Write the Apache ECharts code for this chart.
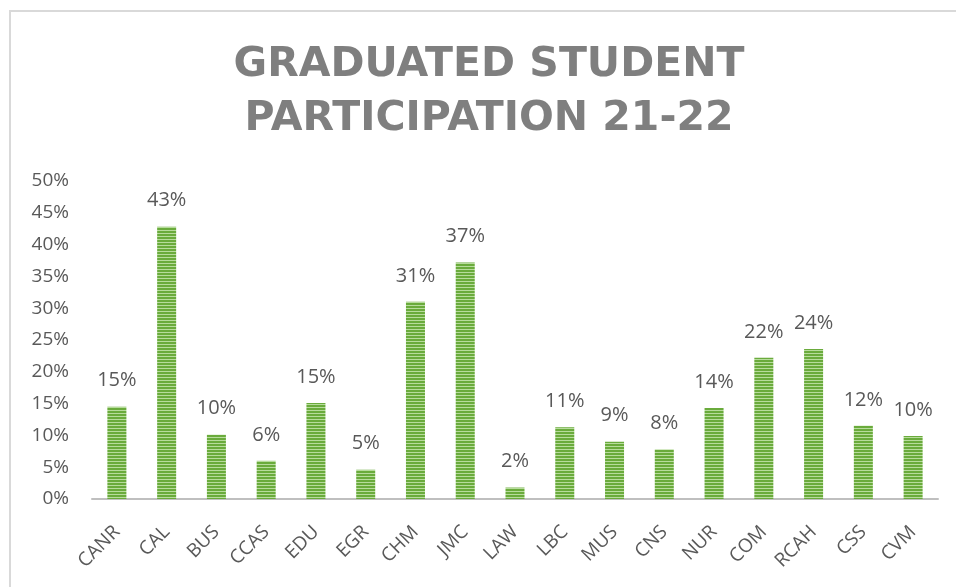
<!DOCTYPE html>
<html>
<head>
<meta charset="utf-8">
<script src="https://cdn.jsdelivr.net/npm/echarts@6/dist/echarts.min.js"></script>
<style>
  html, body { margin: 0; padding: 0; background: #ffffff; }
  #chart { width: 956px; height: 587px; }
</style>
</head>
<body>
<div id="chart"></div>
<script>
// ---- Data ----
var titleLines = ['GRADUATED STUDENT', 'PARTICIPATION 21-22'];
var categories = ['CANR', 'CAL', 'BUS', 'CCAS', 'EDU', 'EGR', 'CHM', 'JMC', 'LAW', 'LBC', 'MUS', 'CNS', 'NUR', 'COM', 'RCAH', 'CSS', 'CVM'];
var participation = [14.5, 42.8, 10.1, 6.0, 15.1, 4.6, 31.0, 37.2, 1.8, 11.3, 9.0, 7.8, 14.3, 22.2, 23.6, 11.5, 9.9];
var yMin = 0, yMax = 50, yStep = 5;

// ---- Striped fill pattern ----
var pat = document.createElement('canvas');
pat.width = 4; pat.height = 3;
var ctx = pat.getContext('2d');
ctx.fillStyle = '#6aab3c';
ctx.fillRect(0, 0, 4, 2);
ctx.fillStyle = '#b7dc9c';
ctx.fillRect(0, 2, 4, 1);

var chart = echarts.init(document.getElementById('chart'), null, { renderer: 'canvas' });

var option = {
  backgroundColor: '#ffffff',
  animation: false,
  graphic: [
    {
      type: 'rect',
      shape: { x: 10, y: 11, width: 1000, height: 1000 },
      style: { fill: 'none', stroke: '#d9d9d9', lineWidth: 2 },
      silent: true
    },
    {
      type: 'text',
      x: 489,
      y: 38,
      style: {
        text: titleLines.join('\n'),
        fontFamily: 'DejaVu Sans',
        fontWeight: 'bold',
        fontSize: 41,
        lineHeight: 54,
        fill: '#7f7f7f',
        textAlign: 'center',
        textVerticalAlign: 'top'
      }
    }
  ],
  grid: { left: 92, right: 18, top: 181, bottom: 88, containLabel: false },
  xAxis: {
    type: 'category',
    data: categories,
    axisLine: { show: true, lineStyle: { color: '#bfbfbf', width: 2 } },
    axisTick: { show: false },
    axisLabel: {
      rotate: 45,
      interval: 0,
      margin: 30,
      color: '#595959',
      fontFamily: 'Open Sans',
      fontSize: 19
    }
  },
  yAxis: {
    type: 'value',
    min: yMin,
    max: yMax,
    interval: yStep,
    axisLine: { show: false },
    axisTick: { show: false },
    splitLine: { show: false },
    axisLabel: {
      formatter: '{value}%',
      margin: 23,
      color: '#595959',
      fontFamily: 'Open Sans',
      fontSize: 19
    }
  },
  series: [{
    type: 'bar',
    data: participation,
    barWidth: 19,
    itemStyle: { color: { image: pat, repeat: 'repeat' } },
    label: {
      show: true,
      position: 'top',
      distance: 16,
      color: '#595959',
      fontFamily: 'Open Sans',
      fontSize: 20,
      formatter: function (p) { return Math.round(p.value) + '%'; }
    }
  }]
};

chart.setOption(option);
</script>
</body>
</html>
